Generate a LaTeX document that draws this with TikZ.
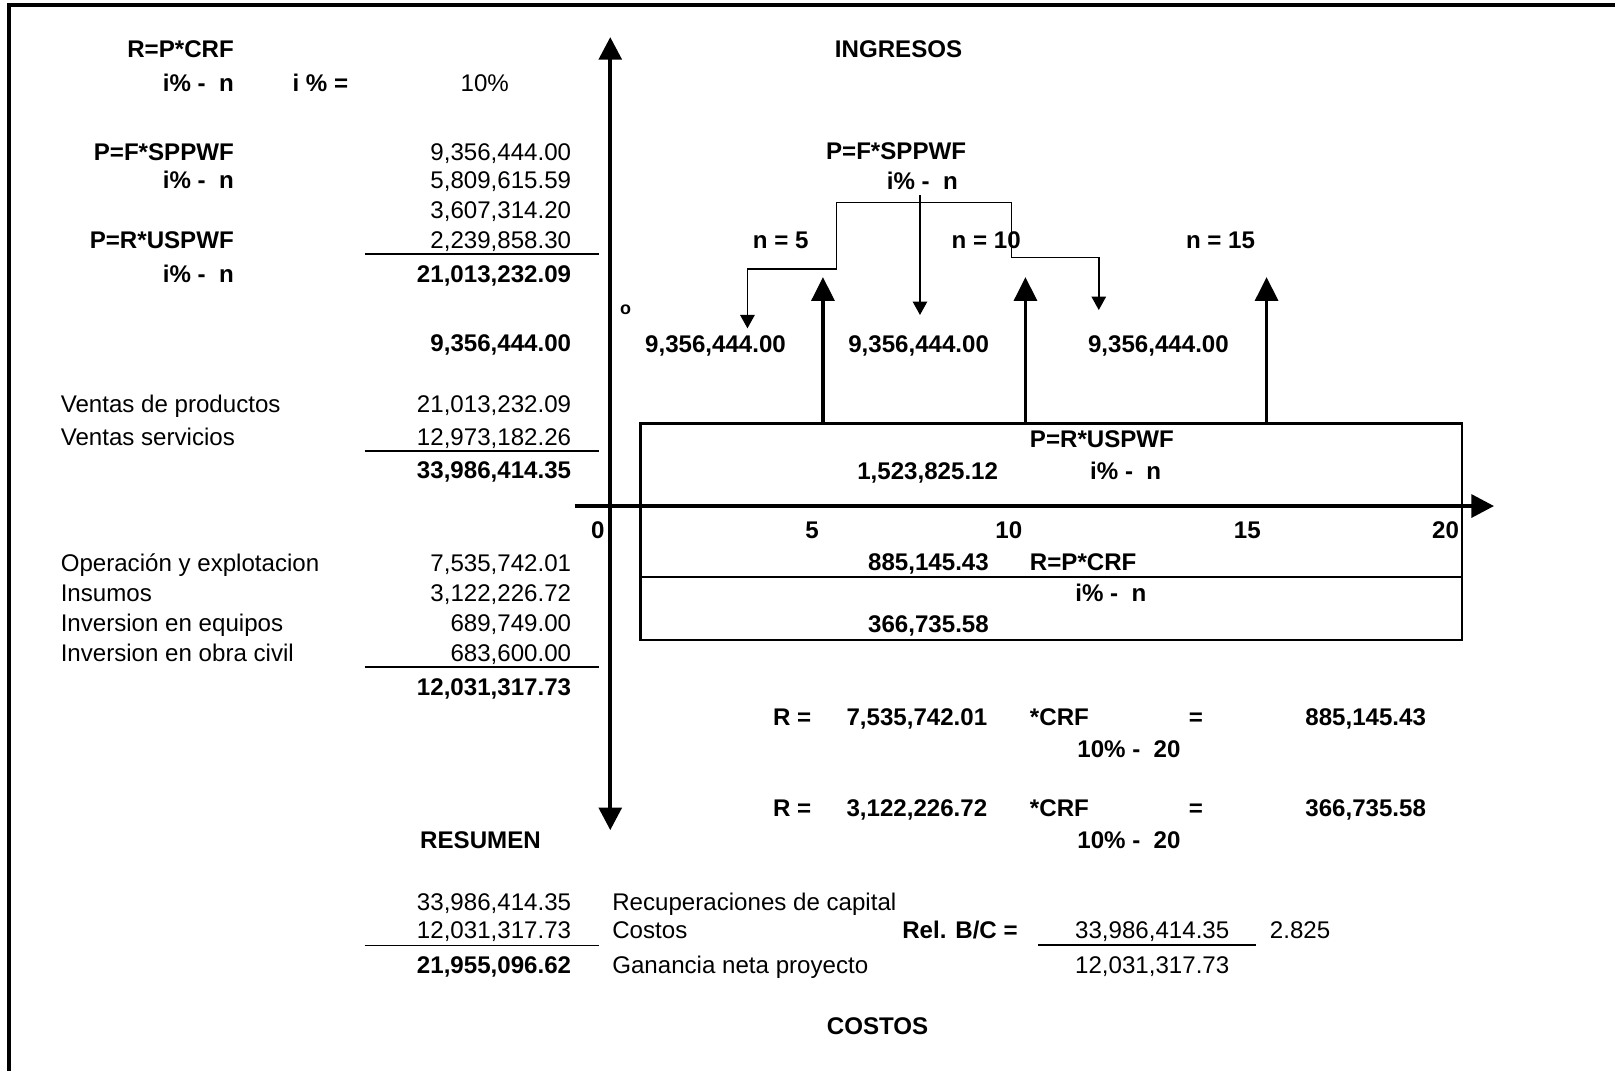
\documentclass[tikz,border=0pt]{standalone}
\usepackage{fontspec}
\setmainfont{Liberation Sans}
\usetikzlibrary{arrows.meta}
\newcommand\fsz{\fontsize{23.4}{28}\selectfont}
\newcommand\fsmall{\fontsize{17.4}{20}\selectfont}
\begin{document}
\begin{tikzpicture}[x=1pt,y=-1pt,
  every node/.style={inner sep=0pt,outer sep=0pt,font=\fsz},
  tr/.style={anchor=base east}, tl/.style={anchor=base west}, tc/.style={anchor=base},
  bf/.style={font=\fsz\bfseries},
  frame/.style={line width=3.4pt,line join=miter},
  axisarr/.style={line width=4pt,-{Triangle[width=22pt,length=22pt]}},
  axisboth/.style={line width=4pt,{Triangle[width=22pt,length=22pt]}-{Triangle[width=22pt,length=22pt]}},
  uparr/.style={line width=3.6pt,-{Triangle[width=22pt,length=23pt]}},
  thinarr/.style={line width=1.4pt,-{Triangle[width=14pt,length=13pt]}},
  sumline/.style={line width=1.8pt},
  boxline/.style={line width=2.5pt}
]
\useasboundingbox (0,0) rectangle (1568,1039);
% frame
\coordinate (fR) at (1580,4.9);
\coordinate (fTL) at (8.9,4.9);
\coordinate (fB) at (8.9,1050);
\draw[frame] (fR) -- (fTL) -- (fB);

% ---------- left block ----------
\node[bf,tr] (l1) at (227,55.7) {R=P*CRF};
\node[bf,tr] (l2) at (227,89) {i\%~-~~n};
\node[bf,tl] (l3) at (284,89) {i~\%~=};
\node[tc] (l4) at (470.7,89) {10\%};
\node[bf,tr] (l5) at (227,155.4) {P=F*SPPWF};
\node[tr] (v1) at (554.5,155.4) {9,356,444.00};
\node[bf,tr] (l6) at (227,183.4) {i\%~-~~n};
\node[tr] (v2) at (554.5,183.4) {5,809,615.59};
\node[tr] (v3) at (554.5,212.4) {3,607,314.20};
\node[bf,tr] (l7) at (227,241.4) {P=R*USPWF};
\node[tr] (v4) at (554.5,241.4) {2,239,858.30};
\node[bf,tr] (l8) at (227,274.4) {i\%~-~~n};
\node[bf,tr] (v5) at (554.5,274.4) {21,013,232.09};
\node[bf,tr] (v6) at (554.5,341.4) {9,356,444.00};

\node[tl] (a1) at (59,400.4) {Ventas de productos};
\node[tr] (a1v) at (554.5,400.4) {21,013,232.09};
\node[tl] (a2) at (59,432.4) {Ventas servicios};
\node[tr] (a2v) at (554.5,432.4) {12,973,182.26};
\node[bf,tr] (a3v) at (554.5,464.4) {33,986,414.35};

\node[tl] (c1) at (59,555) {Operación y explotacion};
\node[tr] (c1v) at (554.5,555) {7,535,742.01};
\node[tl] (c2) at (59,584) {Insumos};
\node[tr] (c2v) at (554.5,584) {3,122,226.72};
\node[tl] (c3) at (59,613.1) {Inversion en equipos};
\node[tr] (c3v) at (554.5,613.1) {689,749.00};
\node[tl] (c4) at (59,642.2) {Inversion en obra civil};
\node[tr] (c4v) at (554.5,642.2) {683,600.00};
\node[bf,tr] (c5v) at (554.5,675.1) {12,031,317.73};

\node[bf,tc] (res) at (466.5,824) {RESUMEN};
\node[tr] (r1v) at (554.5,883.8) {33,986,414.35};
\node[tl] (r1) at (594.5,883.8) {Recuperaciones de capital};
\node[tr] (r2v) at (554.5,911.4) {12,031,317.73};
\node[tl] (r2) at (594.5,911.4) {Costos};
\node[bf,tr] (r3v) at (554.5,945.4) {21,955,096.62};
\node[tl] (r3) at (594.5,945.4) {Ganancia neta proyecto};

\node[bf,tl] (bc) at (876,911.4) {Rel. B/C =};
\node[tr] (bcn) at (1193.5,911.4) {33,986,414.35};
\node[tl] (bcr) at (1233,911.4) {2.825};
\node[tr] (bcd) at (1193.5,945.4) {12,031,317.73};
\node[bf,tc] (cost) at (852,1004.4) {COSTOS};

% sum lines
\coordinate (s1a) at (354,247);   \coordinate (s1b) at (581.6,247);
\coordinate (s2a) at (354,437.6); \coordinate (s2b) at (581.6,437.6);
\coordinate (s3a) at (354,647.3); \coordinate (s3b) at (581.6,647.3);
\coordinate (s4a) at (354,918);   \coordinate (s4b) at (581.6,918);
\coordinate (s5a) at (1008,917.5); \coordinate (s5b) at (1219,917.5);
\draw[sumline] (s1a) -- (s1b);
\draw[sumline] (s2a) -- (s2b);
\draw[sumline] (s3a) -- (s3b);
\draw[sumline] (s4a) -- (s4b);
\draw[sumline] (s5a) -- (s5b);

% ---------- axes ----------
\coordinate (vT) at (592.5,36);
\coordinate (vB) at (592.5,806);
\draw[axisboth] (vB) -- (vT);
\coordinate (hL) at (558,491.3);
\coordinate (hR) at (1450.6,491.3);
\draw[axisarr] (hL) -- (hR);

\node[bf,tc] (x0) at (580.5,523) {0};
\node[bf,tc] (x5) at (788.5,523) {5};
\node[bf,tc] (x10) at (979.5,523) {10};
\node[bf,tc] (x15) at (1211,523) {15};
\node[bf,tc] (x20) at (1403.5,523) {20};

% ---------- box ----------
\coordinate (bTL) at (622,411);
\coordinate (bBR) at (1419.3,621.4);
\draw[boxline] (bTL) rectangle (bBR);
\coordinate (mL) at (622,560);
\coordinate (mR) at (1419.3,560);
\draw[boxline] (mL) -- (mR);

% up arrows
\coordinate (u1s) at (799,411);    \coordinate (u1t) at (799,269);
\coordinate (u2s) at (995.6,411);  \coordinate (u2t) at (995.6,269);
\coordinate (u3s) at (1229.7,411); \coordinate (u3t) at (1229.7,269);
\draw[uparr] (u1s) -- (u1t);
\draw[uparr] (u2s) -- (u2t);
\draw[uparr] (u3s) -- (u3t);

% thin bracket arrows
\coordinate (t1) at (725.7,318.8);
\coordinate (t2) at (725.7,261.2);
\coordinate (t3) at (812.3,261.2);
\coordinate (t4) at (812.3,196.4);
\coordinate (t5) at (982.2,196.4);
\coordinate (t6) at (982.2,249.8);
\coordinate (t7) at (1066.8,249.8);
\coordinate (t8) at (1066.8,301);
\coordinate (m1) at (893.2,189.3);
\coordinate (m2) at (893.2,305.8);
\draw[thinarr] (t5) -- (t4) -- (t3) -- (t2) -- (t1);
\draw[thinarr] (t5) -- (t6) -- (t7) -- (t8);
\draw[thinarr] (m1) -- (m2);

% ---------- right texts ----------
\node[bf,tc] (ing) at (872.4,56.1) {INGRESOS};
\node[bf,tc] (pf) at (870,155.1) {P=F*SPPWF};
\node[bf,tl] (pfi) at (861,184) {i\%~-~~n};
\node[bf,tl] (n5) at (731,241.4) {n = 5};
\node[bf,tl] (n10) at (924,241.4) {n = 10};
\node[bf,tl] (n15) at (1151.5,241.4) {n = 15};
\node[font=\fsmall\bfseries,tc] (deg) at (607.4,305) {o};
\node[bf,tr] (f1) at (763,342.4) {9,356,444.00};
\node[bf,tr] (f2) at (960.2,342.4) {9,356,444.00};
\node[bf,tr] (f3) at (1193,342.4) {9,356,444.00};

\node[bf,tl] (pr) at (1000,434) {P=R*USPWF};
\node[bf,tr] (prv) at (969,465.9) {1,523,825.12};
\node[bf,tl] (pri) at (1058.5,465.9) {i\%~-~~n};
\node[bf,tr] (crv1) at (960,553.7) {885,145.43};
\node[bf,tl] (cr) at (1000,553.7) {R=P*CRF};
\node[bf,tl] (cri) at (1044,584.4) {i\%~-~~n};
\node[bf,tr] (crv2) at (960,613.6) {366,735.58};

\node[bf,tl] (e1a) at (750.5,704.2) {R =};
\node[bf,tr] (e1b) at (958.5,704.2) {7,535,742.01};
\node[bf,tl] (e1c) at (1000,704.2) {*CRF};
\node[bf,tc] (e1d) at (1161,704.2) {=};
\node[bf,tr] (e1e) at (1384.5,704.2) {885,145.43};
\node[bf,tl] (e1f) at (1046,735.8) {10\%~-~~20};

\node[bf,tl] (e2a) at (750.5,793.2) {R =};
\node[bf,tr] (e2b) at (958.5,793.2) {3,122,226.72};
\node[bf,tl] (e2c) at (1000,793.2) {*CRF};
\node[bf,tc] (e2d) at (1161,793.2) {=};
\node[bf,tr] (e2e) at (1384.5,793.2) {366,735.58};
\node[bf,tl] (e2f) at (1046,824) {10\%~-~~20};
\end{tikzpicture}
\end{document}
